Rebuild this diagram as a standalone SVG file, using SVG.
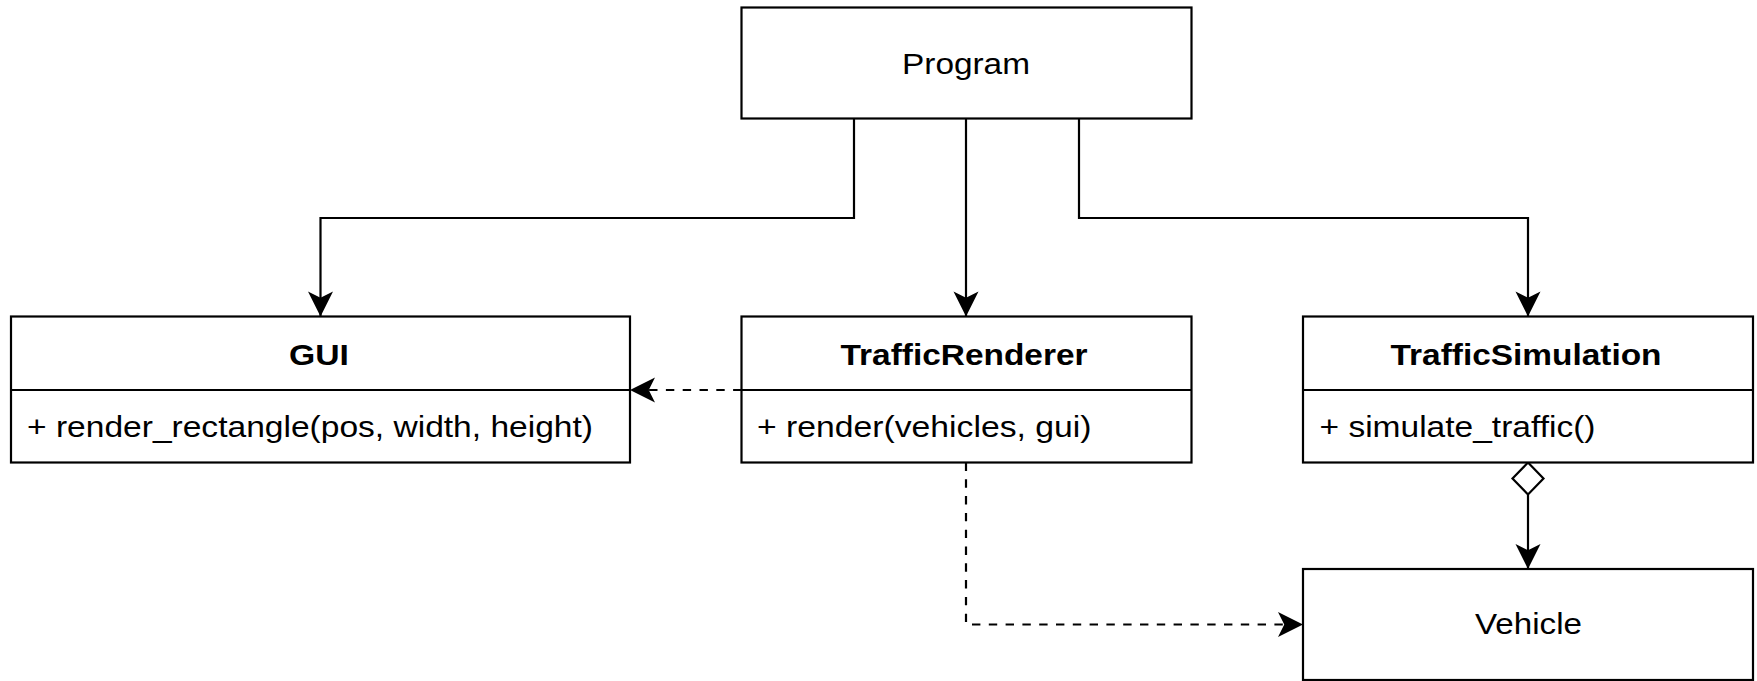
<svg xmlns="http://www.w3.org/2000/svg" width="1757" height="681" viewBox="0 0 1757 681">
<style>
.box{fill:#fff;stroke:#000;stroke-width:2.2}
.sep{stroke:#000;stroke-width:2.2}
.t{font-family:"Liberation Sans",Arial,Helvetica,sans-serif;font-size:29.5px;fill:#000}
.b{font-weight:bold}
.c{fill:none;stroke:#000;stroke-width:2.2}
.d{stroke-dasharray:8.4 8.4}
</style>
<defs>
<marker id="arr" markerUnits="userSpaceOnUse" viewBox="-26 -13 27 26" markerWidth="27" markerHeight="26" refX="0" refY="0" orient="auto">
<path d="M0,0 L-25,-12.5 L-18.75,0 L-25,12.5 Z" fill="#000" stroke="none"/>
</marker>
</defs>
<rect width="1757" height="681" fill="#fff"/>
<g id="connectors">
<path class="c" d="M854 118.5 V218 H320.5 V316.5" marker-end="url(#arr)"/>
<path class="c" d="M966 118.5 V316.5" marker-end="url(#arr)"/>
<path class="c" d="M1079 118.5 V218 H1528 V316.5" marker-end="url(#arr)"/>
<path class="c d" d="M741.5 390 H630" marker-end="url(#arr)"/>
<path class="c d" d="M966 462.5 V624.5 H1303" marker-end="url(#arr)"/>
<path class="c" d="M1528 494.5 V569" marker-end="url(#arr)"/>
<polygon points="1528,462.5 1543.5,478.5 1528,494.5 1512.5,478.5" fill="#fff" stroke="#000" stroke-width="2.2"/>
</g>
<g id="program">
<rect class="box" x="741.5" y="7.5" width="450" height="111"/>
<text class="t" x="902" y="74" textLength="128" lengthAdjust="spacingAndGlyphs">Program</text>
</g>
<g id="gui">
<rect class="box" x="11" y="316.5" width="619" height="146"/>
<line class="sep" x1="11" y1="390" x2="630" y2="390"/>
<text class="t b" x="289" y="364.5" textLength="60" lengthAdjust="spacingAndGlyphs">GUI</text>
<text class="t" x="27" y="437" textLength="566" lengthAdjust="spacingAndGlyphs">+ render_rectangle(pos, width, height)</text>
</g>
<g id="trafficrenderer">
<rect class="box" x="741.5" y="316.5" width="450" height="146"/>
<line class="sep" x1="741.5" y1="390" x2="1191.5" y2="390"/>
<text class="t b" x="840.5" y="365" textLength="247" lengthAdjust="spacingAndGlyphs">TrafficRenderer</text>
<text class="t" x="757" y="437.3" textLength="334.5" lengthAdjust="spacingAndGlyphs">+ render(vehicles, gui)</text>
</g>
<g id="trafficsimulation">
<rect class="box" x="1303" y="316.5" width="450" height="146"/>
<line class="sep" x1="1303" y1="390" x2="1753" y2="390"/>
<text class="t b" x="1390.5" y="365" textLength="271" lengthAdjust="spacingAndGlyphs">TrafficSimulation</text>
<text class="t" x="1319.5" y="437.3" textLength="276" lengthAdjust="spacingAndGlyphs">+ simulate_traffic()</text>
</g>
<g id="vehicle">
<rect class="box" x="1303" y="569" width="450" height="111"/>
<text class="t" x="1475" y="634.3" textLength="107" lengthAdjust="spacingAndGlyphs">Vehicle</text>
</g>
</svg>
